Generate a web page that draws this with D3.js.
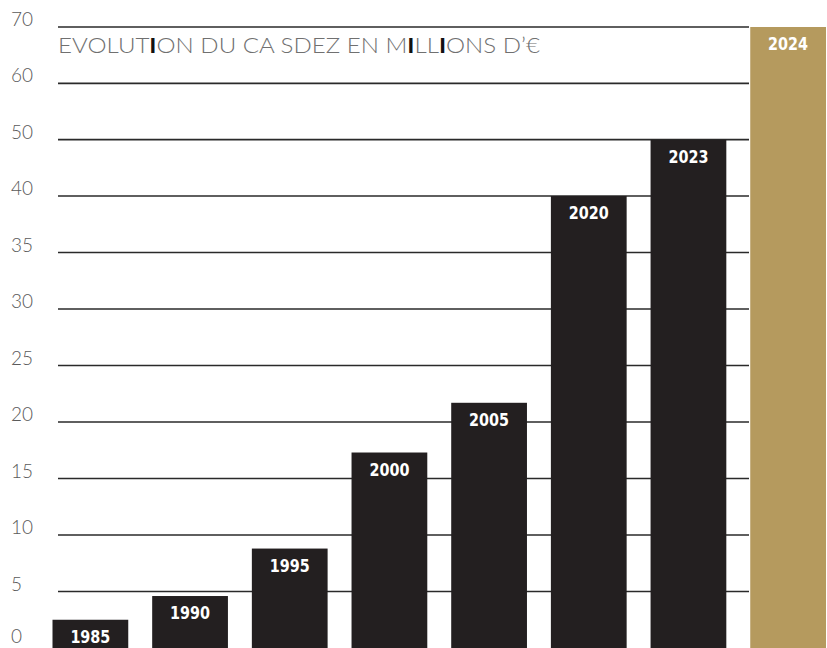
<!DOCTYPE html>
<html><head><meta charset="utf-8">
<script src="https://cdn.jsdelivr.net/npm/d3@7"></script>
<style>html,body{margin:0;padding:0;background:#fff;overflow:hidden}</style>
</head><body>
<svg id="c" width="827" height="648"></svg>
<script>
const categories = ["1985","1990","1995","2000","2005","2020","2023","2024"];
const values = [2.5, 4.6, 8.8, 17.3, 21.7, 40, 50, 70];
const tickValues = [0,5,10,15,20,25,30,35,40,50,60,70];
const highlight = "2024";
const title = "EVOLUTION DU CA SDEZ EN MILLIONS D\u2019\u20AC";

const svg = d3.select("#c");
const y = d3.scaleLinear().domain([0,40,70]).range([648,196,27]);
const x = d3.scaleBand().domain(categories).range([52.5,826]).paddingInner(0.24).paddingOuter(0);

// gridlines
svg.append("g").selectAll("line").data(tickValues.filter(d=>d>0)).join("line")
  .attr("x1",58).attr("x2",749)
  .attr("y1",d=>y(d)).attr("y2",d=>y(d))
  .attr("stroke","#2a2a2a").attr("stroke-width",1.6);

// tick labels
svg.append("g").selectAll("text").data(tickValues).join("text")
  .attr("x",11).attr("y",d=>Math.min(y(d)-1, 643))
  .attr("font-family","Lato, 'Open Sans', sans-serif").attr("font-weight",300)
  .attr("font-size",19).attr("fill","#5a5a5a")
  .text(d=>d);

// title
const t = svg.append("text").attr("x",58).attr("y",53)
  .attr("font-family","Lato, 'Open Sans', sans-serif").attr("font-weight",300)
  .attr("font-size",21).attr("fill","#707070")
  .attr("textLength",482).attr("lengthAdjust","spacingAndGlyphs");
title.split(/(I)/).forEach(p=>{ if(p) t.append("tspan").attr("fill", p==="I"?"#111":null).attr("font-weight",p==="I"?700:null).text(p); });

// bars
const data = categories.map((c,i)=>({c, v:values[i]}));
svg.append("g").selectAll("rect").data(data).join("rect")
  .attr("x",d=>x(d.c)).attr("width",x.bandwidth())
  .attr("y",d=>y(d.v)).attr("height",d=>y(0)-y(d.v))
  .attr("fill",d=>d.c===highlight?"#b59a5e":"#231f20");

svg.append("g").selectAll("text").data(data).join("text")
  .attr("x",d=>x(d.c)+x.bandwidth()/2).attr("y",d=>y(d.v)+23)
  .attr("text-anchor","middle")
  .attr("font-family","'DejaVu Sans Condensed','Liberation Sans Narrow',sans-serif")
  .attr("font-weight",700).attr("font-size",17).attr("fill","#fff")
  .attr("textLength",40).attr("lengthAdjust","spacingAndGlyphs")
  .text(d=>d.c);
</script>
</body></html>
